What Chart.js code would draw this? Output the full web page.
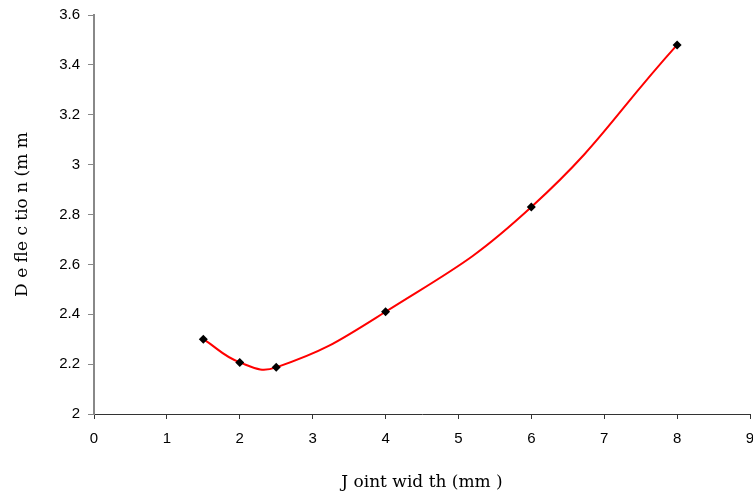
<!DOCTYPE html>
<html>
<head>
<meta charset="utf-8">
<script src="https://cdn.jsdelivr.net/npm/chart.js@4"></script>
<style>
  html, body { margin: 0; padding: 0; background: #fff; }
  #wrap { width: 753px; height: 493px; }
</style>
</head>
<body>
<div id="wrap"><canvas id="grafico" width="753" height="493"></canvas></div>
<script>
// Dados
const larguraJunta = [1.5, 2, 2.5, 4, 6, 8];
const deflexao = [2.30, 2.207, 2.187, 2.41, 2.83, 3.48];
const ticksX = [0, 1, 2, 3, 4, 5, 6, 7, 8, 9];
const ticksY = [2, 2.2, 2.4, 2.6, 2.8, 3, 3.2, 3.4, 3.6];

const pontos = larguraJunta.map((x, i) => ({ x: x, y: deflexao[i] }));

const ctx = document.getElementById("grafico").getContext("2d");

new Chart(ctx, {
    type: "scatter",
    data: {
        datasets: [{
            data: pontos,
            showLine: true,
            borderColor: "#ff0000",
            borderWidth: 2,
            tension: 0.45,
            pointStyle: "rectRot",
            pointRadius: 4.5,
            pointBackgroundColor: "#000",
            pointBorderColor: "#000",
            pointBorderWidth: 0
        }]
    },
    options: {
        responsive: false,
        animation: false,
        layout: { autoPadding: false, padding: { top: 15, right: 3, left: 0, bottom: 0 } },
        plugins: { legend: { display: false }, tooltip: { enabled: false } },
        scales: {
            x: {
                type: "linear",
                min: 0,
                max: 9,
                afterBuildTicks: s => { s.ticks = ticksX.map(v => ({ value: v })); },
                afterFit: s => {
                    s.height = 79;
                    s.paddingRight = 0;
                    s.paddingLeft = 0;
                },
                grid: { drawOnChartArea: false, color: "#333", tickLength: 5 },
                border: { color: "#333", width: 1 },
                ticks: {
                    color: "#000",
                    padding: 11,
                    maxRotation: 0,
                    font: { family: "Liberation Sans", size: 15 }
                },
                title: {
                    display: true,
                    text: "J oint wid th (mm )",
                    color: "#000",
                    padding: { top: 0, bottom: 0 },
                    font: { family: "DejaVu Serif", size: 17 }
                }
            },
            y: {
                min: 2,
                max: 3.6,
                afterBuildTicks: s => { s.ticks = ticksY.map(v => ({ value: v })); },
                afterFit: s => {
                    s.width = 94;
                    s.paddingTop = 0;
                    s.paddingBottom = 0;
                },
                grid: { drawOnChartArea: false, color: "#888", tickLength: 6 },
                border: { color: "#888", width: 2 },
                ticks: {
                    color: "#000",
                    padding: 8,
                    font: { family: "Liberation Sans", size: 15 },
                    callback: v => String(Math.round(v * 10) / 10)
                },
                title: {
                    display: true,
                    text: "D e fle c tio n (m m",
                    color: "#000",
                    padding: { top: 12, bottom: 0 },
                    font: { family: "DejaVu Serif", size: 17 }
                }
            }
        }
    }
});
</script>
</body>
</html>
